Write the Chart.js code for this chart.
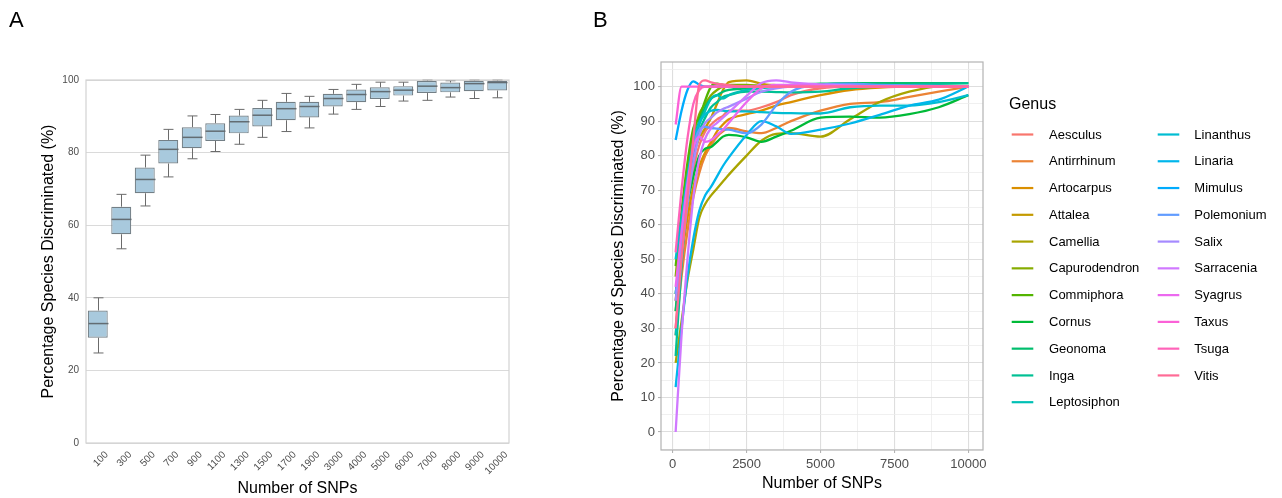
<!DOCTYPE html>
<html><head><meta charset="utf-8">
<script src="https://cdn.jsdelivr.net/npm/chart.js@4.4.1/dist/chart.umd.min.js"></script>
<style>
html,body{margin:0;padding:0;background:#fff;width:1282px;height:498px;overflow:hidden;font-family:"Liberation Sans",Arial,sans-serif}
#wa{position:absolute;left:0;top:0;width:560px;height:498px}
#wb{position:absolute;left:560px;top:0;width:722px;height:498px}
.lab{position:absolute;font-size:22px;line-height:22px;color:#000}
</style></head><body>
<div id="wa"><canvas id="ca" width="560" height="498"></canvas></div>
<div id="wb"><canvas id="cb" width="722" height="498"></canvas></div>
<div class="lab" style="left:9px;top:9px">A</div>
<div class="lab" style="left:593px;top:9px">B</div>
<script>
// ---------- Panel A data (boxplot) ----------
const snpLabels = ['100','300','500','700','900','1100','1300','1500','1700','1900','3000','4000','5000','6000','7000','8000','9000','10000'];
const boxLow  = [24.8,53.5,65.3,73.3,78.3,80.3,82.3,84.2,85.8,86.8,90.6,91.9,92.7,94.2,94.4,95.3,94.9,95.1];
const boxQ1   = [29.0,57.5,68.8,77.0,81.2,83.2,85.3,87.2,88.9,89.7,92.7,93.9,94.8,95.7,96.4,96.6,96.9,97.1];
const boxMed  = [32.9,61.6,72.6,80.9,84.2,85.9,88.5,90.3,92.1,92.7,94.9,96.0,96.8,97.2,98.3,97.9,99.0,99.3];
const boxQ3   = [36.5,65.1,75.9,83.5,87.0,88.1,90.2,92.3,94.0,94.0,96.2,97.4,98.0,98.3,99.7,99.3,99.8,99.7];
const boxHigh = [40.0,68.5,79.3,86.4,90.1,90.5,91.9,94.4,96.3,95.5,97.4,98.8,99.4,99.4,100,99.8,100,100];
const yTicksA = [0,20,40,60,80,100];

// ---------- Panel B data (lines) ----------
const snpX = [100,300,500,700,900,1100,1300,1500,1700,1900,2500,3000,3500,4000,5000,6000,7000,8000,9000,10000];
const xTicksB = [0,1250,2500,3750,5000,6250,7500,8750,10000];
const yTicksB = [-5,0,5,10,15,20,25,30,35,40,45,50,55,60,65,70,75,80,85,90,95,100,105];
const genera = ['Aesculus','Antirrhinum','Artocarpus','Attalea','Camellia','Capurodendron','Commiphora','Cornus','Geonoma','Inga','Leptosiphon','Linanthus','Linaria','Mimulus','Polemonium','Salix','Sarracenia','Syagrus','Taxus','Tsuga','Vitis'];
const aesculus      = [30,52,66,76,83,87,89,90.5,91.5,93,93,94,95.5,97.5,99.5,100,100,100,100,100];
const antirrhinum   = [28,45,58,68,75,80,83,85.5,87,88,87,86.5,88,90,93,95,95.5,97,98.5,100];
const artocarpus    = [35,50,62,71,77,81,84,87,89,90.5,92,93,94.5,95.5,97.5,99,99.7,100,100,100];
const attalea       = [38,55,70,80,85,88,91,95,99,101.3,101.8,100.8,100.4,100.2,100,100,100,100,100,100];
const camellia      = [20,32,44,53,62,66,68.5,70.5,72.5,74.5,80,84.3,86.3,86.5,85.5,90.5,95.5,98.5,100,100];
const capurodendron = [45,62,76,86,92,95,97.5,99,100,100.5,100.5,100.2,100,100,100,100,100,100,100,100];
const commiphora    = [48,64,78,88,91,96,100,100.8,100.5,100.3,100,100,100,100,100,100,100,100,100,100];
const cornus        = [40,55,66,74,80,82,82.5,84,85.5,86,85.3,84,85.5,87.2,91,91.3,91,92,94,97.5];
const geonoma       = [35,55,72,84,90,94,96.5,97.5,98.5,99,99.5,100,100.2,100.5,100.8,101,101,101,101,101];
const inga          = [22,48,68,80,87,91,94,95.5,97,97.5,98.5,98.5,98.4,98.3,98.5,99.5,100,100.5,100.8,101];
const leptosiphon   = [28,50,68,82,89,93,96.5,97.5,96.5,97.5,99,99.5,99.8,100,100,100,100,100,100,100];
const linanthus     = [50,62,74,84,89.5,92,93,93.2,93,92.8,92.8,92.6,92.4,92.3,92.2,94,94.5,94.5,95.5,97.5];
const linaria       = [13,30,45,56,64,68.5,71,74,77,79.5,86,90,88.5,86.3,87.5,89.3,91.8,94.5,96.2,100];
const mimulus       = [84.5,93,99,101.5,100.5,100,100,100,100,100,100,100,100,100,100,100,100,100,100,100];
const polemonium    = [40,55,70,82,87.5,88.3,88,87.8,87.6,87.5,86.5,89,94.5,98.5,100.5,100.8,100.5,100.3,100.2,100];
const salix         = [38,52,66,78,86,89.5,91,92.5,93.5,94.2,96.5,98.5,99.5,100,100,100,100,100,100,100];
const sarracenia    = [0,28,50,68,79,85,88,89.5,91,92.5,97.3,101,101.8,101.2,100.6,100.3,100,100,100,100];
const syagrus       = [42,58,72,82,85.5,84,84.5,86,87.5,89.5,95.5,99.5,100.5,100.5,100.2,100,100,100,100,100];
const taxus         = [89,100,100,100,100,100,100,100,100,100,100,100,100,100,100,100,100,100,100,100];
const tsuga         = [52,70,85,95,99,100,100,100,100,100,100,100,100,100,100,100,100,100,100,100];
const vitis         = [30,50,68,85,100.5,101.8,101.2,100.8,100.6,100.4,100,100,100,100,100,100,100,100,100,100];
const seriesValues = [aesculus,antirrhinum,artocarpus,attalea,camellia,capurodendron,commiphora,cornus,geonoma,inga,leptosiphon,linanthus,linaria,mimulus,polemonium,salix,sarracenia,syagrus,taxus,tsuga,vitis];

// ggplot2 default hue palette (HCL, l=65, c=100)
function hcl(h, c, l) {
  const hr = h * Math.PI / 180;
  const u = c * Math.cos(hr), v = c * Math.sin(hr);
  const Xn = 95.047, Yn = 100, Zn = 108.883;
  const den = Xn + 15 * Yn + 3 * Zn;
  const un = 4 * Xn / den, vn = 9 * Yn / den;
  const Y = l > 8 ? Yn * Math.pow((l + 16) / 116, 3) : Yn * l / 903.3;
  const up = u / (13 * l) + un, vp = v / (13 * l) + vn;
  const X = Y * 9 * up / (4 * vp);
  const Z = Y * (12 - 3 * up - 20 * vp) / (4 * vp);
  const x = X / 100, y = Y / 100, z = Z / 100;
  let rgb = [3.240479 * x - 1.537150 * y - 0.498535 * z,
             -0.969256 * x + 1.875992 * y + 0.041556 * z,
             0.055648 * x - 0.204043 * y + 1.057311 * z];
  rgb = rgb.map(t => {
    t = t <= 0.0031308 ? 12.92 * t : 1.055 * Math.pow(t, 1 / 2.4) - 0.055;
    return Math.round(Math.min(1, Math.max(0, t)) * 255);
  });
  return 'rgb(' + rgb.join(',') + ')';
}
const nG = genera.length;
const genusColors = genera.map((g, i) => hcl(15 + 360 * i / nG, 100, 65));

Chart.defaults.font.family = "'Liberation Sans', Arial, sans-serif";

// ---------- Panel A ----------
const boxPlugin = {
  id: 'boxWhiskers',
  afterDatasetsDraw(chart) {
    const {ctx, scales: {x, y}, chartArea: a} = chart;
    const meta = chart.getDatasetMeta(0);
    ctx.save();
    ctx.strokeStyle = '#6b6b6b';
    ctx.lineWidth = 1;
    snpLabels.forEach((lab, i) => {
      const cx = Math.round(x.getPixelForValue(i)) + 0.5;
      const bw = meta.data[i].width;
      const cap = bw * 0.25;
      ctx.beginPath();
      ctx.moveTo(cx, y.getPixelForValue(boxQ3[i])); ctx.lineTo(cx, y.getPixelForValue(boxHigh[i]));
      ctx.moveTo(cx, y.getPixelForValue(boxQ1[i])); ctx.lineTo(cx, y.getPixelForValue(boxLow[i]));
      ctx.moveTo(cx - cap, y.getPixelForValue(boxHigh[i])); ctx.lineTo(cx + cap, y.getPixelForValue(boxHigh[i]));
      ctx.moveTo(cx - cap, y.getPixelForValue(boxLow[i])); ctx.lineTo(cx + cap, y.getPixelForValue(boxLow[i]));
      ctx.stroke();
      ctx.save();
      ctx.lineWidth = 1.5;
      ctx.strokeStyle = '#626c72';
      ctx.beginPath();
      const my = y.getPixelForValue(boxMed[i]);
      ctx.moveTo(cx - bw / 2, my); ctx.lineTo(cx + bw / 2, my);
      ctx.stroke();
      ctx.restore();
    });
    ctx.strokeStyle = '#d2d2d2';
    ctx.lineWidth = 1.2;
    ctx.strokeRect(a.left, a.top, a.right - a.left, a.bottom - a.top);
    ctx.restore();
  }
};

new Chart(document.getElementById('ca'), {
  type: 'bar',
  data: {
    labels: snpLabels,
    datasets: [{
      data: boxQ1.map((v, i) => [v, boxQ3[i]]),
      backgroundColor: '#a8c9dd',
      borderColor: '#737f86',
      borderWidth: 1.2,
      borderSkipped: false,
      categoryPercentage: 1,
      barPercentage: 0.85
    }]
  },
  options: {
    responsive: false, animation: false, events: [],
    layout: {padding: {left: 0, top: 80, right: 51, bottom: 0}},
    plugins: {legend: {display: false}, tooltip: {enabled: false}},
    scales: {
      x: {
        grid: {display: false, drawTicks: false},
        border: {display: false},
        ticks: {autoSkip: false, maxRotation: 45, minRotation: 45, font: {size: 10}, color: '#4d4d4d', padding: 6, labelOffset: 9},
        title: {display: true, text: 'Number of SNPs', font: {size: 16}, color: '#000', padding: {top: 0, bottom: 0}},
        afterFit(s) { s.height = 55; }
      },
      y: {
        min: 0, max: 100,
        afterBuildTicks(s) { s.ticks = yTicksA.map(v => ({value: v})); },
        ticks: {font: {size: 10}, color: '#4d4d4d', padding: 7},
        grid: {color: '#dadada', drawTicks: false},
        border: {display: false},
        title: {display: true, text: 'Percentage Species Discriminated (%)', font: {size: 16}, color: '#000', padding: {top: 39.4, bottom: 0}},
        afterFit(s) { s.width = 86; }
      }
    }
  },
  plugins: [boxPlugin]
});

// ---------- Panel B ----------
const legendPlugin = {
  id: 'genusLegend',
  afterDraw(chart) {
    const ctx = chart.ctx;
    ctx.save();
    ctx.fillStyle = '#000';
    ctx.textBaseline = 'middle';
    ctx.font = "16px 'Liberation Sans', Arial, sans-serif";
    ctx.fillText('Genus', 449, 105);
    ctx.font = "13px 'Liberation Sans', Arial, sans-serif";
    genera.forEach((g, i) => {
      const col = i < 11 ? 0 : 1;
      const row = col ? i - 11 : i;
      const yy = 134.5 + row * 26.77;
      const kx = col ? 597.7 : 451.7;
      ctx.strokeStyle = genusColors[i];
      ctx.lineWidth = 2.2;
      ctx.beginPath();
      ctx.moveTo(kx, yy); ctx.lineTo(kx + 21.6, yy);
      ctx.stroke();
      ctx.fillText(g, col ? 634.3 : 489, yy + 0.5);
    });
    const a = chart.chartArea;
    ctx.strokeStyle = '#b3b3b3';
    ctx.lineWidth = 1.2;
    ctx.strokeRect(a.left, a.top, a.right - a.left, a.bottom - a.top);
    ctx.restore();
  }
};

const isMajorX = v => Math.abs(v % 2500) < 1e-6;
const isMajorY = v => Math.abs(v % 10) < 1e-6 && v >= 0;

new Chart(document.getElementById('cb'), {
  type: 'line',
  data: {
    datasets: genera.map((g, i) => ({
      label: g,
      data: snpX.map((xv, j) => ({x: xv, y: seriesValues[i][j]})),
      borderColor: genusColors[i],
      borderWidth: 2.3,
      pointRadius: 0,
      fill: false,
      cubicInterpolationMode: 'monotone',
      order: nG - 1 - i
    }))
  },
  options: {
    responsive: false, animation: false, events: [],
    layout: {padding: {left: 0, top: 62, right: 299, bottom: 0}},
    plugins: {legend: {display: false}, tooltip: {enabled: false}},
    scales: {
      x: {
        type: 'linear', min: -395, max: 10495,
        afterBuildTicks(s) { s.ticks = xTicksB.map(v => ({value: v})); },
        ticks: {autoSkip: false, maxRotation: 0, minRotation: 0,
                callback: v => isMajorX(v) ? String(v) : '', font: {size: 13}, color: '#4d4d4d', padding: 4},
        grid: {
          color: c => (c.tick && isMajorX(c.tick.value)) ? '#dedede' : '#ececec',
          lineWidth: c => (c.tick && isMajorX(c.tick.value)) ? 1.1 : 0.8,
          tickColor: c => (c.tick && isMajorX(c.tick.value)) ? '#b3b3b3' : 'rgba(0,0,0,0)',
          tickLength: 3
        },
        border: {display: false},
        title: {display: true, text: 'Number of SNPs', font: {size: 16}, color: '#000', padding: {top: 0, bottom: 5}},
        afterFit(s) { s.height = 48; }
      },
      y: {
        min: -5.2, max: 107.1,
        afterBuildTicks(s) { s.ticks = yTicksB.map(v => ({value: v})); },
        ticks: {autoSkip: false,
                callback: v => isMajorY(v) ? String(v) : '', font: {size: 13}, color: '#4d4d4d', padding: 3},
        grid: {
          color: c => (c.tick && isMajorY(c.tick.value)) ? '#dedede' : '#ececec',
          lineWidth: c => (c.tick && isMajorY(c.tick.value)) ? 1.1 : 0.8,
          tickColor: c => (c.tick && isMajorY(c.tick.value)) ? '#b3b3b3' : 'rgba(0,0,0,0)',
          tickLength: 3
        },
        border: {display: false},
        title: {display: true, text: 'Percentage of Species Discriminated (%)', font: {size: 16}, color: '#000', padding: {top: 49, bottom: 0}},
        afterFit(s) { s.width = 101; }
      }
    }
  },
  plugins: [legendPlugin]
});
</script>
</body></html>
